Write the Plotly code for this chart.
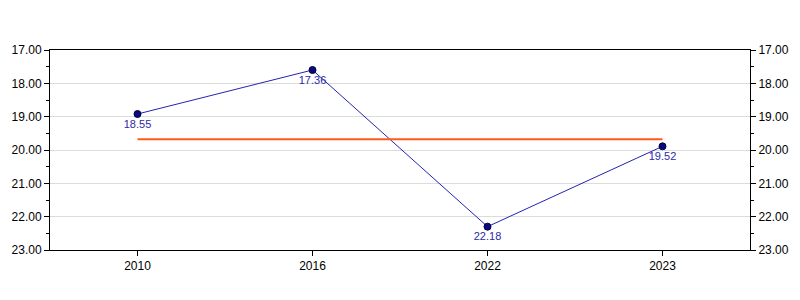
import plotly.graph_objects as go
import numpy as np

years = ["2010", "2016", "2022", "2023"]
values = [18.92, 17.60, 22.30, 19.89]
labels = ["18.55", "17.36", "22.18", "19.52"]
mean_value = float(np.mean(values))

fig = go.Figure()
fig.add_trace(go.Scatter(
    x=years, y=values, mode="lines+markers+text",
    text=labels, textposition="bottom center",
    textfont=dict(family="Liberation Sans, Arial", size=11, color="#2b2ba8"),
    line=dict(color="#2424b0", width=1),
    marker=dict(color="#0a0a80", size=7, line=dict(color="#000040", width=1)),
    showlegend=False, cliponaxis=False,
))
fig.add_trace(go.Scatter(
    x=years, y=[mean_value] * len(years), mode="lines",
    line=dict(color="#ff5a1a", width=2),
    showlegend=False, yaxis="y2",
))

axis_common = dict(
    range=[23, 17], dtick=1, tick0=17, tickformat=".2f",
    ticks="outside", ticklen=5, tickcolor="black",
    showline=True, linecolor="black", linewidth=1,
    tickfont=dict(family="Liberation Sans, Arial", size=12, color="black"),
    minor=dict(dtick=0.5, ticks="outside", ticklen=3, tickcolor="black", showgrid=False),
    zeroline=False,
)

fig.update_layout(
    width=800, height=300,
    margin=dict(l=50, r=50, t=50, b=50),
    plot_bgcolor="white", paper_bgcolor="white",
    xaxis=dict(
        type="category", range=[-0.5, 3.5],
        ticks="outside", ticklen=5, tickcolor="black",
        showline=True, linecolor="black", linewidth=1, mirror=True,
        showgrid=False,
        tickfont=dict(family="Liberation Sans, Arial", size=12, color="black"),
    ),
    yaxis=dict(**axis_common, showgrid=True, gridcolor="#dcdcdc", gridwidth=1),
    yaxis2=dict(**axis_common, overlaying="y", side="right", showgrid=False),
)

fig.write_html("out.html")
